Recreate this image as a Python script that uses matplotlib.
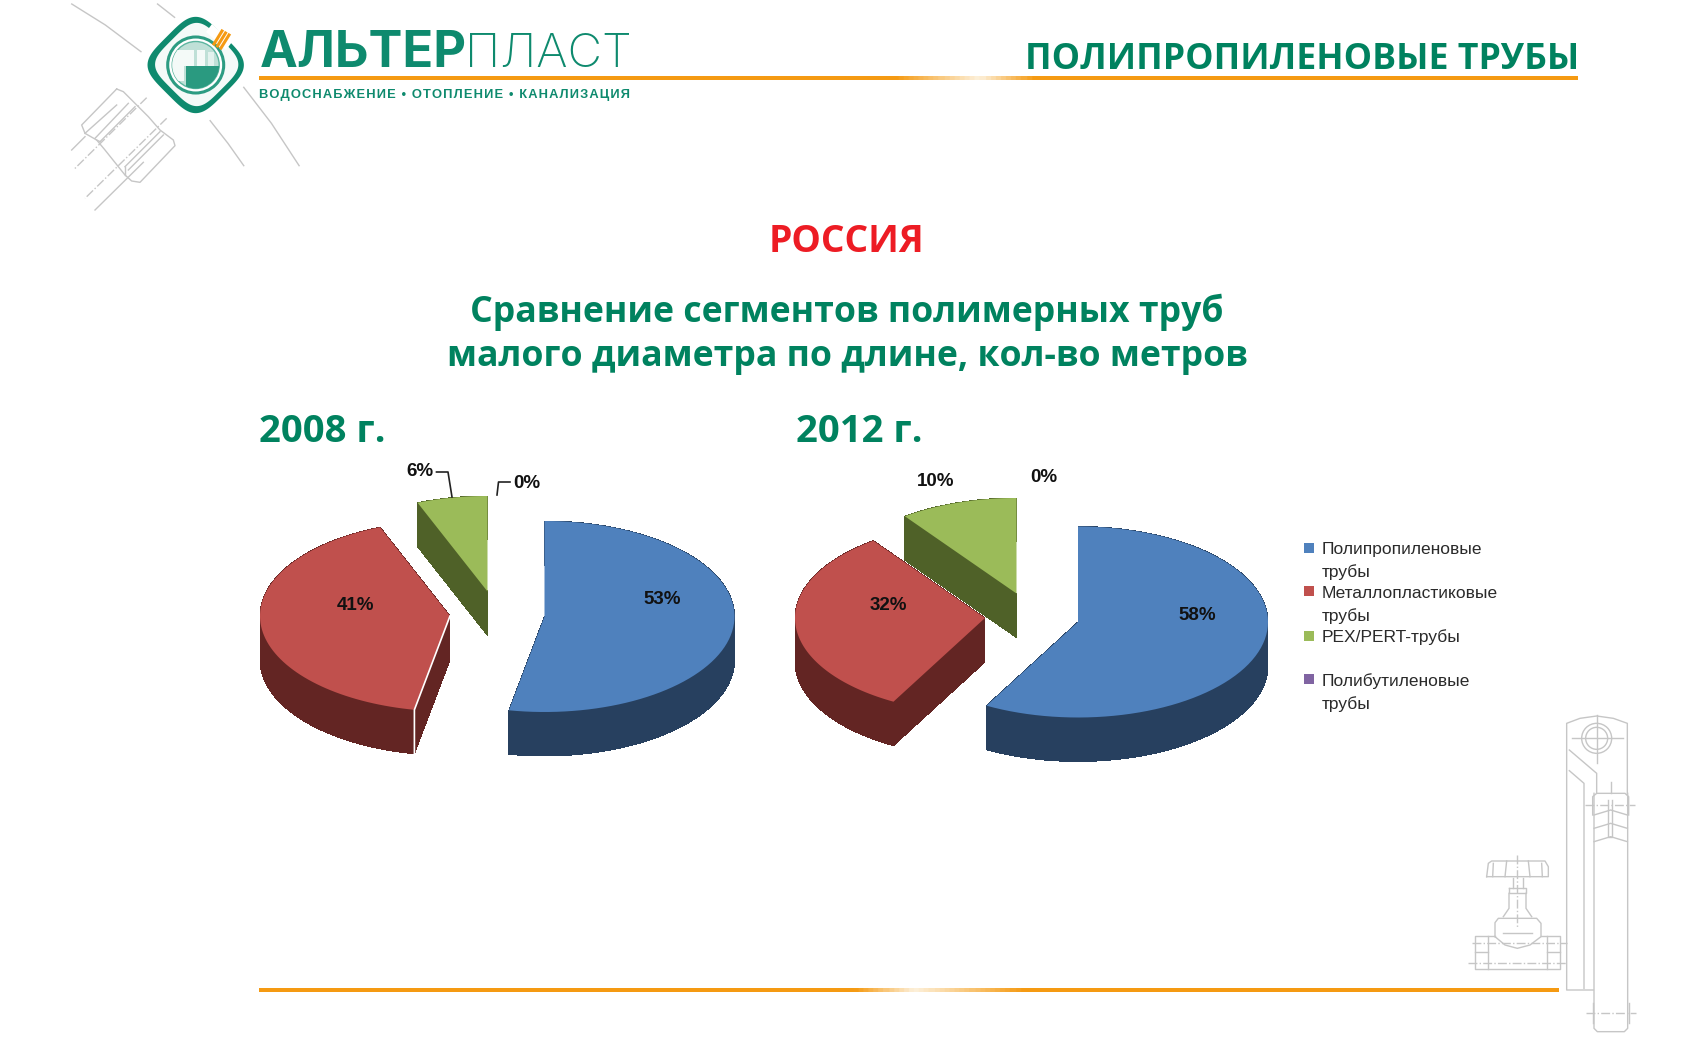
import numpy as np
import matplotlib
matplotlib.use('Agg')
import matplotlib.pyplot as plt
from matplotlib.colors import LinearSegmentedColormap
from matplotlib.patches import Circle, Polygon, Rectangle

categories = ['Полипропиленовые\nтрубы', 'Металлопластиковые\nтрубы', 'PEX/PERT-трубы', 'Полибутиленовые\nтрубы']
shares_2008 = [53, 41, 6, 0]
shares_2012 = [58, 32, 10, 0]

GREEN = '#00825F'
LOGO = '#0E8A6E'
ORANGE = '#F59A12'
GREY = '#C6C6C6'
top_colors = ['#4F81BD', '#C0504D', '#9BBB59', '#8064A2']
side_colors = ['#27405F', '#632523', '#4F6128', '#403152']

RX, RY, DEPTH = 190, 95.5, 44

fig = plt.figure(figsize=(16.87, 10.49), dpi=100, facecolor='white')
ax = fig.add_axes([0, 0, 1, 1])
ax.set_xlim(0, 1687)
ax.set_ylim(1049, 0)
ax.axis('off')


def draw_pie(shares, centers, seam=False):
    start = 0
    slices = []
    for i, share in enumerate(shares):
        end = start + share * 3.6
        if share > 0:
            slices.append((i, start, end))
        start = end
    # far slices first, the blue one goes on top
    for i, t0, t1 in reversed(slices):
        cx, cy = centers[i]
        t = np.radians(np.linspace(t0, t1, 80))
        xs = np.r_[cx, cx + RX * np.sin(t)]
        ys = np.r_[cy, cy - RY * np.cos(t)]
        n = len(xs)
        for k in range(n):
            j = (k + 1) % n
            quad = [(xs[k], ys[k]), (xs[j], ys[j]), (xs[j], ys[j] + DEPTH), (xs[k], ys[k] + DEPTH)]
            ax.add_patch(Polygon(quad, fc=side_colors[i], ec='none', lw=0, antialiased=False, zorder=2 + i))
        ax.add_patch(Polygon(np.c_[xs, ys], fc=top_colors[i], ec='none', zorder=2.5 + i))
        if seam and i == 1:
            ax.plot([xs[0], xs[1], xs[1]], [ys[0], ys[1], ys[1] + DEPTH], color='white', lw=1.2, zorder=6)


def orange_rule(x0, x1, y, pale_a, pale_mid, pale_b):
    cmap = LinearSegmentedColormap.from_list('rule', [
        (0, ORANGE),
        ((pale_a - x0) / (x1 - x0), ORANGE),
        ((pale_mid - x0) / (x1 - x0), '#FDF1DC'),
        ((pale_b - x0) / (x1 - x0), ORANGE),
        (1, ORANGE)])
    ax.imshow(np.linspace(0, 1, 800)[None, :], cmap=cmap, extent=[x0, x1, y + 2, y - 2], aspect='auto', zorder=3)


def sketch(lines, ox, oy, sx, sy, **kw):
    for line in lines:
        pts = np.array(line, dtype=float)
        ax.plot(ox + pts[:, 0] / sx, oy + pts[:, 1] / sy, color=GREY, lw=kw.get('lw', 1.0), ls=kw.get('ls', '-'), zorder=1)


# pies
draw_pie(shares_2008, [(544.5, 616.5), (450, 616), (487.5, 591.5), (487.5, 591.5)], seam=True)
draw_pie(shares_2012, [(1078, 622), (985, 618), (1016.5, 593.5), (1016.5, 593.5)])

pct = dict(ha='center', va='center', family='Liberation Sans', fontsize=13.5, fontweight='bold', color='#111111', zorder=8)
ax.text(662, 599, f'{shares_2008[0]}%', **pct)
ax.text(356, 605, f'{shares_2008[1]}%', **pct)
ax.text(420, 472, f'{shares_2008[2]}%', **pct)
ax.text(527, 484, f'{shares_2008[3]}%', **pct)
ax.text(1197, 616, f'{shares_2012[0]}%', **pct)
ax.text(888, 605, f'{shares_2012[1]}%', **pct)
ax.text(936, 482, f'{shares_2012[2]}%', **pct)
ax.text(1044, 478, f'{shares_2012[3]}%', **pct)
ax.plot([436.5, 448, 452], [472, 472, 497], color='#222222', lw=1.2, zorder=8)
ax.plot([510, 498.5, 497], [482, 482, 495], color='#222222', lw=1.2, zorder=8)

# legend
marker_y = [548, 591, 636, 679]
label_y = [542, 586, 629, 673]
for my, ly, name, c in zip(marker_y, label_y, categories, top_colors):
    ax.add_patch(Rectangle((1304, my - 5), 10, 10, fc=c, ec='none', zorder=5))
    ax.text(1322, ly, name, family='Liberation Sans', fontsize=12.5, color='#2A2A2A', va='top', ha='left', linespacing=1.55, zorder=5)

# headings
head = dict(family='Open Sans', fontweight='bold', color=GREEN)
ax.text(1579, 60, 'ПОЛИПРОПИЛЕНОВЫЕ ТРУБЫ', ha='right', va='center', fontsize=25.65, **head)
ax.text(847, 242, 'РОССИЯ', ha='center', va='center', family='Open Sans', fontweight='bold', color='#ED1C24', fontsize=26.8)
ax.text(847, 312, 'Сравнение сегментов полимерных труб', ha='center', va='center', fontsize=25.7, **head)
ax.text(847, 357, 'малого диаметра по длине, кол-во метров', ha='center', va='center', fontsize=25.7, **head)
ax.text(259.5, 432, '2008 г.', ha='left', va='center', fontsize=27.5, **head)
ax.text(796, 432, '2012 г.', ha='left', va='center', fontsize=27.5, **head)

# rules
orange_rule(259.5, 1578, 78.5, 895, 980, 1035)
orange_rule(259.5, 1559, 990, 855, 915, 1025)

# logo
th = np.linspace(0, 2 * np.pi, 300)
u = np.sign(np.cos(th)) * np.abs(np.cos(th)) ** 0.5
v = np.sign(np.sin(th)) * np.abs(np.sin(th)) ** 0.5
dx = (u - v) / np.sqrt(2)
dy = (u + v) / np.sqrt(2)
ax.add_patch(Polygon(np.c_[195.7 + 40.5 * dx, 65 + 40.5 * dy], fc=LOGO, ec='none', zorder=4))
ax.add_patch(Polygon(np.c_[196.7 + 35 * dx, 64.5 + 35 * dy], fc='#F4FAF8', ec='none', zorder=4.1))
# gap in the ring with the orange stripes
ax.add_patch(Polygon([(212, 24), (232, 42), (226, 50), (206, 32)], fc='white', ec='none', zorder=4.15))
for k in range(3):
    ax.plot([214 + k * 3.5, 222 + k * 3.5], [44 + k * 2, 31 + k * 2], color=ORANGE, lw=2.2, zorder=4.5)
ax.add_patch(Circle((195.7, 65), 28, fc='white', ec='#2C9C82', lw=2.2, zorder=4.2))
lens = Circle((195.7, 65), 23.5, fc='#BFE0D7', ec='#5DB5A0', lw=1, zorder=4.3)
ax.add_patch(lens)
pic = [Rectangle((186, 66), 36, 26, fc='#2A9A80', ec='none', zorder=4.4),
       Rectangle((170, 50), 24, 16, fc='#F4FAF8', ec='none', zorder=4.4),
       Rectangle((172, 66), 12, 15, fc='#F4FAF8', ec='none', zorder=4.4),
       Rectangle((197, 50), 8, 16, fc='#F4FAF8', ec='none', zorder=4.4),
       Rectangle((208, 52), 6, 14, fc='#E3F2EE', ec='none', zorder=4.4)]
for patch in pic:
    ax.add_patch(patch)
    patch.set_clip_path(lens)

ax.text(260, 67, 'АЛЬТЕР', family='Inter', fontweight='bold', fontsize=36.5, color=LOGO, va='baseline', ha='left', zorder=5)
ax.text(465, 67, 'ПЛАСТ', family='Inter', fontweight='light', fontsize=34.3, color=LOGO, va='baseline', ha='left', zorder=5)
ax.text(259.5, 95, '\u200a'.join('ВОДОСНАБЖЕНИЕ • ОТОПЛЕНИЕ • КАНАЛИЗАЦИЯ'), family='Liberation Sans',
        fontweight='bold', fontsize=9.25, color=LOGO, va='center', ha='left', zorder=5)

# nut and arcs, top left
arcs = [[(55, 12), (140, 75), (230, 155)], [(272, 12), (315, 52)],
        [(490, 262), (560, 370), (630, 497)], [(405, 362), (450, 430), (490, 497)]]
nut = [[(170, 42), (65, 150), (75, 175), (110, 195), (135, 225), (195, 300), (215, 318), (240, 322), (345, 212), (340, 195),
        (300, 165), (265, 125), (225, 85), (190, 50), (170, 42)],
       [(205, 85), (105, 190)], [(225, 95), (120, 200)], [(300, 170), (195, 275)], [(310, 180), (205, 285)],
       [(110, 195), (120, 200)], [(195, 275), (195, 300)],
       [(170, 90), (75, 175)], [(75, 185), (35, 225)], [(250, 262), (105, 405)]]
axis_lines = [[(260, 68), (40, 285)], [(320, 130), (75, 370)]]
sketch(arcs, 50, 0, 2.529, 3)
sketch(nut, 60, 75, 3, 3)
sketch(axis_lines, 60, 75, 3, 3, ls='-.')

# valve and pipe, bottom right
arm = [[(460, 870), (380, 870), (380, 70), (420, 55), (470, 48), (520, 55), (562, 70), (562, 280)],
       [(388, 150), (470, 220), (470, 280)], [(388, 212), (432, 250), (432, 865)],
       [(470, 45), (470, 190)], [(395, 115), (548, 115)], [(512, 245), (512, 280)],
       [(458, 345), (458, 290), (470, 280), (555, 280), (566, 290), (566, 345)],
       [(462, 280), (462, 985), (472, 995), (553, 995), (563, 985), (563, 280)],
       [(462, 345), (512, 330), (562, 345)], [(462, 385), (512, 370), (562, 385)], [(462, 425), (512, 410), (562, 425)],
       [(505, 300), (505, 410), (515, 410), (515, 300)], [(458, 910), (458, 970)], [(566, 910), (566, 970)],
       [(140, 530), (145, 490), (155, 483), (315, 483), (325, 500), (325, 530), (140, 530)],
       [(200, 483), (195, 530)], [(265, 483), (270, 530)], [(160, 490), (158, 530)], [(305, 490), (307, 530)],
       [(220, 535), (220, 565)], [(250, 535), (250, 565)], [(207, 565), (258, 565), (258, 580), (207, 580), (207, 565)],
       [(207, 580), (207, 625), (190, 650)], [(258, 580), (258, 625), (275, 650)],
       [(165, 710), (165, 668), (175, 655), (290, 655), (303, 670), (303, 710), (270, 735), (232, 745), (195, 735), (165, 710)],
       [(190, 700), (275, 700)],
       [(165, 708), (105, 708), (105, 808), (360, 808), (360, 708), (303, 708)],
       [(145, 708), (145, 808)], [(320, 708), (320, 808)], [(105, 755), (145, 755)], [(320, 755), (360, 755)]]
center_lines = [[(435, 315), (585, 315)], [(437, 940), (587, 940)], [(95, 730), (380, 730)], [(85, 790), (380, 790)], [(232, 465), (232, 680)]]
sketch(arm, 1440, 700, 3, 3)
sketch(center_lines, 1440, 700, 3, 3, ls='-.')
ax.add_patch(Circle((1440 + 470 / 3, 700 + 115 / 3), 15, fc='none', ec=GREY, lw=1, zorder=1))
ax.add_patch(Circle((1440 + 470 / 3, 700 + 115 / 3), 11, fc='none', ec=GREY, lw=1, zorder=1))

ax.set_xlim(0, 1687)
ax.set_ylim(1049, 0)
fig.savefig('out.png', dpi=100)
